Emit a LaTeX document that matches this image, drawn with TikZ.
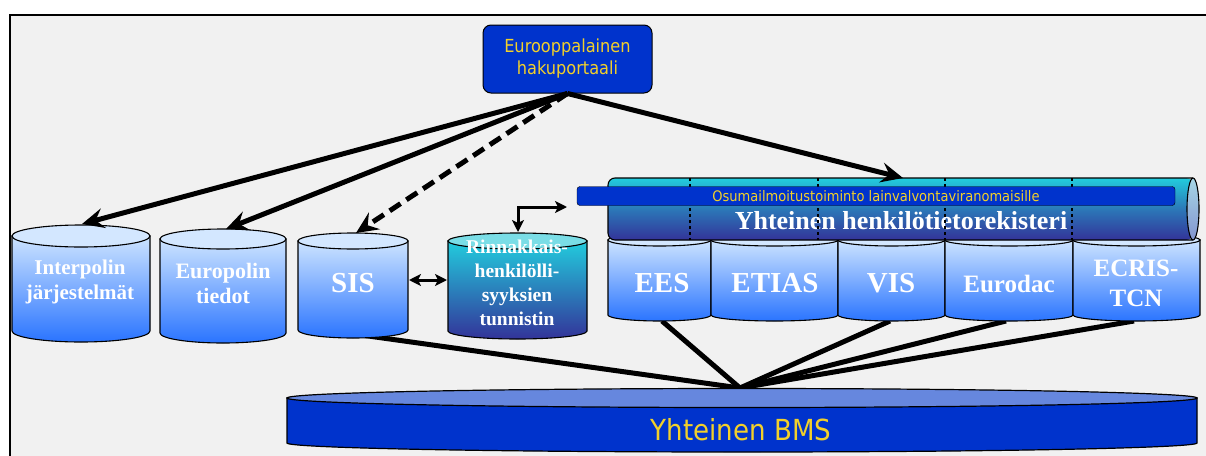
\documentclass[tikz,border=0pt]{standalone}
\usepackage{fontspec}
\setmainfont{Liberation Serif}
\newfontfamily\sansc{DejaVu Sans Condensed}
\usetikzlibrary{arrows.meta}

\definecolor{framebg}{HTML}{F1F1F1}
\definecolor{royal}{HTML}{0033CC}
\definecolor{gold}{HTML}{F2D02A}
\definecolor{cyltop}{HTML}{CDE4FF}
\definecolor{cylbot}{HTML}{2A74FF}
\definecolor{cylcap}{HTML}{D3E7FF}
\definecolor{tealc}{HTML}{22CCDD}
\definecolor{tealcap}{HTML}{7ADDE6}
\definecolor{deep}{HTML}{333399}
\definecolor{bmscap}{HTML}{6687DE}
\definecolor{endtop}{HTML}{A6D6E6}
\definecolor{endbot}{HTML}{8395CF}

% x1, x2, ytop, ybot, ry, top colour, bottom colour, cap colour
\newcommand\mycyl[8]{%
  \pgfmathsetmacro\cx{(#1+#2)/2}%
  \pgfmathsetmacro\rx{(#2-#1)/2}%
  \shadedraw[top color=#6,bottom color=#7,line width=1.1pt]
    (#1,#3) -- (#1,#4) arc[start angle=180,end angle=0,x radius=\rx,y radius=#5] -- (#2,#3) -- cycle;
  \draw[fill=#8,line width=1.1pt] (\cx,#3) ellipse[x radius=\rx,y radius=#5];
}

\tikzset{
  cyltext/.style={text=white,font=\bfseries,align=center,inner sep=0pt},
  fatarrow/.style={line width=5pt,-{Stealth[length=22pt,width=20pt,inset=8pt]}},
  fatline/.style={line width=5pt},
  thinarrow/.style={line width=3pt,{Stealth[length=12pt,width=12pt,inset=3pt]}-{Stealth[length=12pt,width=12pt,inset=3pt]}},
  bluebox/.style={fill=royal,draw=black,text=gold,align=center},
  dots/.style={line width=2.5pt,dash pattern=on 3pt off 3pt}
}

\begin{document}
\begin{tikzpicture}[x=1pt,y=-1pt]
\useasboundingbox (0,0) rectangle (1206,455);
\clip (0,0) rectangle (1206,455);
\draw[fill=framebg,line width=1.5pt] (10,15) rectangle (1240,490);

% connection coordinates
\coordinate (hub) at (740,388);
\coordinate (sisB) at (354,334);
\coordinate (eesB) at (662,321);
\coordinate (visB) at (890,321);
\coordinate (eurB) at (1006,321);
\coordinate (ecrB) at (1134,321);

% lines to the BMS
\draw[fatline] (sisB) -- (hub);
\draw[fatline] (eesB) -- (hub);
\draw[fatline] (visB) -- (hub);
\draw[fatline] (eurB) -- (hub);
\draw[fatline] (ecrB) -- (hub);

% BMS disc
\filldraw[fill=royal,line width=1.2pt] (287,398) -- (287,443) arc[start angle=180,end angle=0,x radius=455,y radius=9] -- (1197,398) -- cycle;
\draw[fill=bmscap,line width=1.2pt] (742,398) ellipse[x radius=455,y radius=9.5];
\node[text=gold,font=\sansc\fontsize{29}{32}\selectfont] (bms) at (741,430) {Yhteinen BMS};

% left cylinders
\mycyl{12}{150}{236}{331}{11}{cyltop}{cylbot}{cylcap}
\mycyl{160}{286}{239}{333}{10}{cyltop}{cylbot}{cylcap}
\mycyl{298}{408}{241}{330}{8}{cyltop}{cylbot}{cylcap}
\mycyl{448}{587}{241}{331}{8}{tealc}{deep}{tealcap}

% lower row
\mycyl{608}{711}{240}{315}{6}{cyltop}{cylbot}{cylcap}
\mycyl{711}{838}{240}{315}{6}{cyltop}{cylbot}{cylcap}
\mycyl{838}{945}{240}{315}{6}{cyltop}{cylbot}{cylcap}
\mycyl{945}{1073}{240}{315}{6}{cyltop}{cylbot}{cylcap}
\mycyl{1073}{1200}{240}{315}{6}{cyltop}{cylbot}{cylcap}

% horizontal register cylinder
\shade[top color=tealc,bottom color=deep,middle color=tealc!45!deep,rounded corners=7pt] (1193,178) -- (608,178) -- (608,240) -- (1193,240) -- cycle;
\draw[line width=1.1pt,rounded corners=7pt] (1193,178) -- (608,178) -- (608,240) -- (1193,240);
\shadedraw[top color=endtop,bottom color=endbot,line width=1.1pt] (1193,209) ellipse[x radius=6,y radius=31];
\node[text=white,font=\bfseries\fontsize{26}{28}\selectfont] (reg) at (901,221) {Yhteinen henkilötietorekisteri};
\foreach \xx in {690,818,945,1072} \draw[dots] (\xx,178) -- (\xx,240);
\node[bluebox,rounded corners=3pt,minimum width=598pt,minimum height=19pt,inner sep=0pt,font=\sansc\fontsize{14.5}{16}\selectfont] (osu) at (876,196) {Osumailmoitustoiminto lainvalvontaviranomaisille};

% cylinder labels
\node[cyltext,font=\bfseries\fontsize{21}{25}\selectfont] (interpol) at (80,282) {Interpolin\\järjestelmät};
\node[cyltext,font=\bfseries\fontsize{22}{25}\selectfont] (europol) at (223,283) {Europolin\\tiedot};
\node[cyltext,font=\bfseries\fontsize{29}{30}\selectfont] (sis) at (353,283) {SIS};
\node[cyltext,font=\bfseries\fontsize{19.5}{24}\selectfont] (rinn) at (517,283) {Rinnakkais-\\henkilölli-\\syyksien\\tunnistin};
\node[cyltext,font=\bfseries\fontsize{29}{30}\selectfont] (ees) at (662,283) {EES};
\node[cyltext,font=\bfseries\fontsize{29}{30}\selectfont] (etias) at (775,283) {ETIAS};
\node[cyltext,font=\bfseries\fontsize{29}{30}\selectfont] (vis) at (891,283) {VIS};
\node[cyltext,font=\bfseries\fontsize{25}{30}\selectfont] (eurodac) at (1009,284) {Eurodac};
\node[cyltext,font=\bfseries\fontsize{25}{30}\selectfont] (ecris) at (1136,283) {ECRIS-\\TCN};

% portal
\node[bluebox,rounded corners=8pt,minimum width=169pt,minimum height=68pt,line width=1pt,font=\sansc\fontsize{18}{22}\selectfont] (portal) at (567.5,59) {Eurooppalainen\\hakuportaali};

% arrow targets
\coordinate (interpolT) at (82,224);
\coordinate (europolT) at (226,229);
\coordinate (sisT) at (356,233);
\coordinate (regT) at (903,178);
\coordinate (sisR) at (409,280);
\coordinate (rinnL) at (447,280);
\coordinate (rinnT) at (518,232);
\coordinate (elbow) at (518,207);
\coordinate (elbowE) at (567,207);

\draw[fatarrow] (portal.south) -- (interpolT);
\draw[fatarrow] (portal.south) -- (europolT);
\draw[fatarrow,dash pattern=on 13pt off 7pt] (portal.south) -- (sisT);
\draw[fatarrow] (portal.south) -- (regT);
\draw[thinarrow] (sisR) -- (rinnL);
\draw[thinarrow] (rinnT) -- (elbow) -- (elbowE);
\end{tikzpicture}
\end{document}
